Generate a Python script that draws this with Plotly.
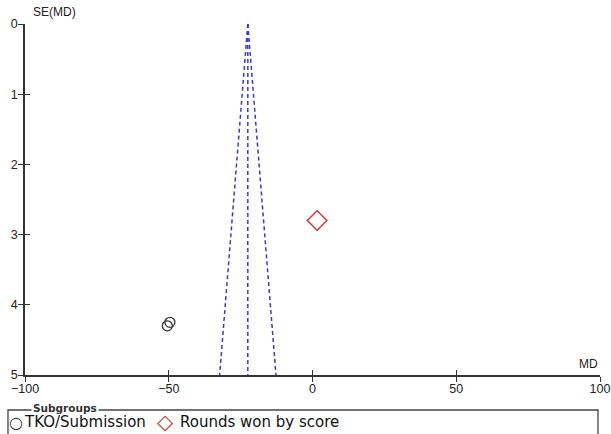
import plotly.graph_objects as go

# ---- data ----
tko_md = [-50.5, -49.6]
tko_se = [4.30, 4.25]
score_md = [1.6]
score_se = [2.80]
funnel_se = [0, 5]
funnel_center = [-22.5, -22.5]
funnel_left = [-22.5, -32.3]
funnel_right = [-22.5, -12.7]
x_ticks = [-100, -50, 0, 50, 100]
y_ticks = [0, 1, 2, 3, 4, 5]
legend_title = "Subgroups"
legend_names = ["TKO/Submission", "Rounds won by score"]

BLUE = "#3a3ac8"
RED = "#c83c3c"
AXIS = "#333333"
TICKFONT = dict(family="Liberation Sans, Arial, sans-serif", size=12.5, color="#222222")
LEGFONT = "DejaVu Sans, sans-serif"

fig = go.Figure()
for xs in (funnel_left, funnel_center, funnel_right):
    fig.add_trace(go.Scatter(x=xs, y=funnel_se, mode="lines", showlegend=False,
                             line=dict(color=BLUE, width=1.5, dash="4px,3px"),
                             hoverinfo="skip"))

fig.add_trace(go.Scatter(x=tko_md, y=tko_se, mode="markers", name=legend_names[0],
                         showlegend=False,
                         marker=dict(symbol="circle-open", size=10, color="#333333",
                                     line=dict(width=1.3))))
fig.add_trace(go.Scatter(x=score_md, y=score_se, mode="markers", name=legend_names[1],
                         showlegend=False,
                         marker=dict(symbol="diamond-open", size=15, color=RED,
                                     line=dict(width=1.5))))

# overlay axes carry the inward halves of the tick marks
fig.add_trace(go.Scatter(x=[None], y=[None], xaxis="x2", yaxis="y2", showlegend=False))

common = dict(showgrid=False, zeroline=False, automargin=False, tickcolor=AXIS,
              tickwidth=1.3, ticklen=5)
fig.update_layout(
    width=611, height=434,
    margin=dict(l=25, r=11, t=24, b=59),
    paper_bgcolor="white", plot_bgcolor="white",
    xaxis=dict(range=[-100, 100], tickvals=x_ticks, ticks="outside",
               showline=True, linecolor=AXIS, linewidth=1.5,
               tickfont=TICKFONT, ticklabelstandoff=-4, anchor="y", **common),
    yaxis=dict(range=[5, 0], tickvals=y_ticks, ticks="outside",
               showline=True, linecolor=AXIS, linewidth=1.5,
               tickfont=TICKFONT, ticklabelstandoff=-2, anchor="x", **common),
    xaxis2=dict(range=[-100, 100], tickvals=x_ticks, ticks="inside",
                showticklabels=False, overlaying="x", anchor="y2", side="bottom", **common),
    yaxis2=dict(range=[5, 0], tickvals=y_ticks, ticks="inside",
                showticklabels=False, overlaying="y", anchor="x2", side="left", **common),
    showlegend=False,
)

# legend box drawn by hand, its title set into the top border
fig.add_shape(type="rect", xref="paper", yref="paper", x0=-0.0296, x1=0.9965,
              y0=-0.30, y1=-0.0997, line=dict(color="#444444", width=1.3),
              fillcolor="rgba(0,0,0,0)", layer="below")
fig.add_annotation(text="<b>%s</b>" % legend_title, xref="paper", yref="paper", x=0.010,
                   y=-0.094, xanchor="left", yanchor="middle", showarrow=False,
                   bgcolor="white", borderpad=1,
                   font=dict(family=LEGFONT, size=10.5, color="#333333"))
leg_y = -0.134
fig.add_annotation(text="○", xref="paper", yref="paper", x=-0.0157, y=leg_y,
                   xanchor="center", yanchor="middle", showarrow=False,
                   font=dict(family=LEGFONT, size=16, color="#333333"))
fig.add_annotation(text=legend_names[0], xref="paper", yref="paper", x=-0.0052, y=leg_y,
                   xanchor="left", yanchor="middle", showarrow=False,
                   font=dict(family=LEGFONT, size=15, color="#111111"))
fig.add_annotation(text="◇", xref="paper", yref="paper", x=0.2435, y=leg_y,
                   xanchor="center", yanchor="middle", showarrow=False,
                   font=dict(family=LEGFONT, size=21, color=RED))
fig.add_annotation(text=legend_names[1], xref="paper", yref="paper", x=0.2661, y=leg_y,
                   xanchor="left", yanchor="middle", showarrow=False,
                   font=dict(family=LEGFONT, size=15, color="#111111"))

fig.add_annotation(text="SE(MD)", xref="paper", yref="paper", x=0.0, y=1.0,
                   xanchor="left", yanchor="bottom", xshift=6, yshift=3, showarrow=False,
                   font=dict(family="Liberation Sans, Arial, sans-serif", size=12, color="#222222"))
fig.add_annotation(text="MD", xref="paper", yref="paper", x=1.0, y=0.0,
                   xanchor="right", yanchor="bottom", yshift=2, showarrow=False,
                   font=dict(family="Liberation Sans, Arial, sans-serif", size=12, color="#222222"))

fig.write_html("out.html", config={"displayModeBar": False},
               post_script="document.body.style.margin='0';document.body.style.overflow='hidden';")
